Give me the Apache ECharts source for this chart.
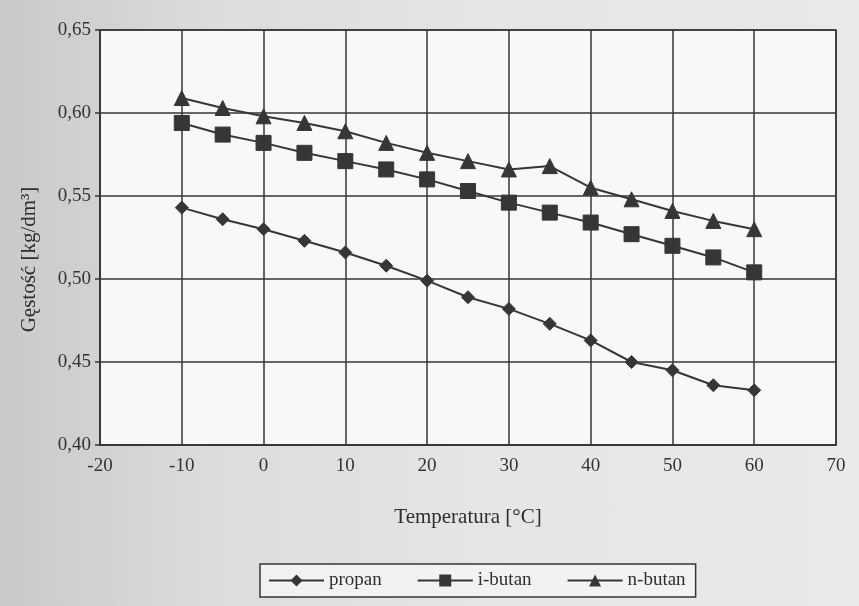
<!DOCTYPE html>
<html>
<head>
<meta charset="utf-8">
<script src="https://cdn.jsdelivr.net/npm/echarts@6/dist/echarts.min.js"></script>
<style>
html,body{margin:0;padding:0;}
body{width:859px;height:606px;background:linear-gradient(90deg,#c9c9c9 0%,#dcdcdc 25%,#e6e6e6 60%,#e9e9e9 100%);}
#chart{width:859px;height:606px;}
</style>
</head>
<body>
<div id="chart"></div>
<script>
const temps = [-10, -5, 0, 5, 10, 15, 20, 25, 30, 35, 40, 45, 50, 55, 60];
const propan = [0.543, 0.536, 0.530, 0.523, 0.516, 0.508, 0.499, 0.489, 0.482, 0.473, 0.463, 0.450, 0.445, 0.436, 0.433];
const ibutan = [0.594, 0.587, 0.582, 0.576, 0.571, 0.566, 0.560, 0.553, 0.546, 0.540, 0.534, 0.527, 0.520, 0.513, 0.504];
const nbutan = [0.609, 0.603, 0.598, 0.594, 0.589, 0.582, 0.576, 0.571, 0.566, 0.568, 0.555, 0.548, 0.541, 0.535, 0.530];
const seriesNames = ['propan', 'i-butan', 'n-butan'];
const xName = 'Temperatura [°C]';
const yName = 'Gęstość [kg/dm³]';

const ink = '#363636';
const font = 'Liberation Serif';
const pairs = arr => temps.map((t, i) => [t, arr[i]]);

const mk = (name, data, symbol, size) => ({
  name, type: 'line', data: pairs(data), symbol, symbolSize: size,
  lineStyle: { color: ink, width: 2 },
  itemStyle: { color: ink, borderColor: ink },
  emphasis: { disabled: true }
});

const chart = echarts.init(document.getElementById('chart'));
chart.setOption({
  backgroundColor: 'transparent',
  animation: false,
  textStyle: { fontFamily: font },
  grid: { left: 100, right: 23, top: 30, bottom: 161, show: true, backgroundColor: '#f8f8f8', borderColor: ink, borderWidth: 1.5 },
  xAxis: {
    type: 'value', min: -20, max: 70, interval: 10,
    name: xName, nameLocation: 'middle', nameGap: 62,
    nameTextStyle: { fontFamily: font, fontSize: 21, color: '#2e2e2e' },
    axisLine: { show: true, onZero: false, lineStyle: { color: ink, width: 1.5 } },
    axisTick: { show: false },
    axisLabel: { fontFamily: font, fontSize: 19, color: '#333', margin: 12 },
    splitLine: { show: true, lineStyle: { color: ink, width: 1.5 } }
  },
  yAxis: {
    type: 'value', min: 0.40, max: 0.65, interval: 0.05,
    name: yName, nameLocation: 'middle', nameGap: 60, nameRotate: 90,
    nameTextStyle: { fontFamily: font, fontSize: 21, color: '#2e2e2e', padding: [0, 44, 0, 0] },
    axisLine: { show: true, onZero: false, lineStyle: { color: ink, width: 1.5 } },
    axisTick: { show: true, length: 5, lineStyle: { color: ink, width: 1.5 } },
    axisLabel: { fontFamily: font, fontSize: 19, color: '#333', margin: 9,
      formatter: v => v.toFixed(2).replace('.', ',') },
    splitLine: { show: true, lineStyle: { color: ink, width: 1.5 } }
  },
  legend: {
    data: seriesNames, left: 260, top: 564,
    itemWidth: 55, itemHeight: 15, itemGap: 35,
    padding: [7, 10, 7, 8],
    borderColor: ink, borderWidth: 1.5, backgroundColor: '#f2f2f2',
    textStyle: { fontFamily: font, fontSize: 19, color: '#2e2e2e' }
  },
  series: [
    mk(seriesNames[0], propan, 'diamond', 13),
    mk(seriesNames[1], ibutan, 'rect', 15),
    mk(seriesNames[2], nbutan, 'triangle', 15)
  ]
});
</script>
</body>
</html>
